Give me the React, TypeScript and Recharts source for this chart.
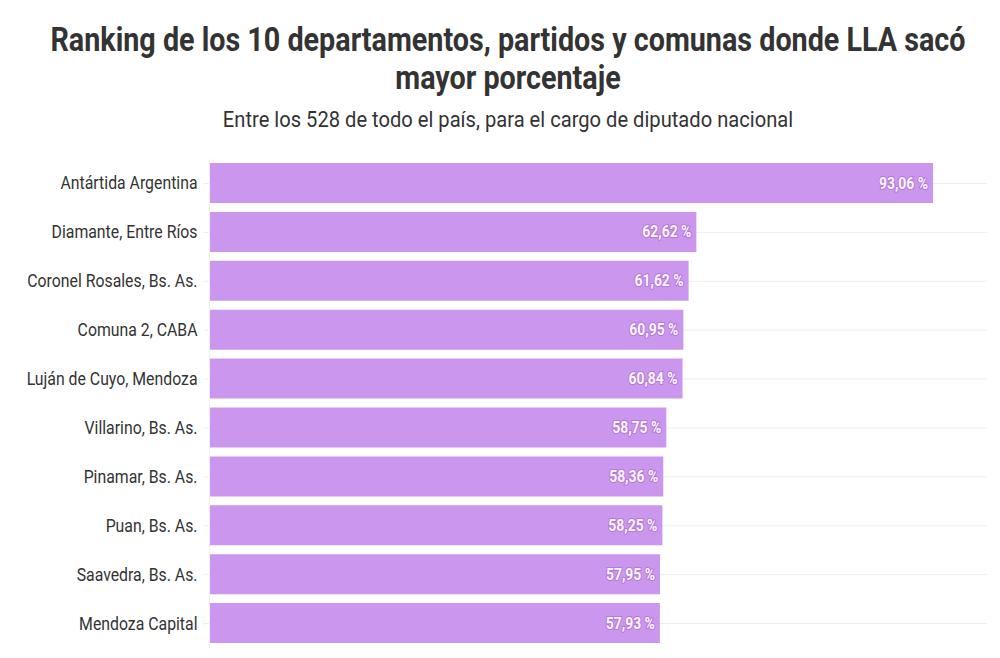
import { BarChart, Bar, XAxis, YAxis, CartesianGrid, LabelList } from "recharts";

const categories = [
  "Antártida Argentina",
  "Diamante, Entre Ríos",
  "Coronel Rosales, Bs. As.",
  "Comuna 2, CABA",
  "Luján de Cuyo, Mendoza",
  "Villarino, Bs. As.",
  "Pinamar, Bs. As.",
  "Puan, Bs. As.",
  "Saavedra, Bs. As.",
  "Mendoza Capital",
];
const values = [93.06, 62.62, 61.62, 60.95, 60.84, 58.75, 58.36, 58.25, 57.95, 57.93];

const chartData = categories.map((name, i) => ({ name, value: values[i] }));

const FONT = "Roboto, sans-serif";

// Roboto Condensed is not installed, so the regular cut is squeezed horizontally
const CategoryTick = ({ x, y, payload }: any) => (
  <text
    transform={`translate(${x},${y + 6}) scale(0.905,1)`}
    textAnchor="end"
    fontFamily={FONT}
    fontSize={17.5}
    fill="#333333"
  >
    {payload.value}
  </text>
);

const ValueLabel = ({ x, y, width, height, value }: any) => (
  <text
    transform={`translate(${x + width - 5},${y + height / 2 + 5.5}) scale(0.87,1)`}
    textAnchor="end"
    fontFamily={FONT}
    fontSize={16}
    fontWeight={700}
    fill="#fbf5ff"
    stroke="#b27bd8"
    strokeWidth={2.2}
    paintOrder="stroke"
  >
    {value.toFixed(2).replace(".", ",")} %
  </text>
);

export default function App() {
  return (
    <div style={{ position: "absolute", left: 0, top: 0, width: 1000, height: 658, background: "#fff", overflow: "hidden" }}>
      <div
        style={{
          position: "absolute",
          left: -50,
          width: 1116,
          top: 21,
          textAlign: "center",
          fontFamily: FONT,
          fontWeight: 700,
          fontSize: 33,
          lineHeight: "38px",
          color: "#333333",
          transform: "scaleX(0.87)",
        }}
      >
        Ranking de los 10 departamentos, partidos y comunas donde LLA sacó
        <br />
        mayor porcentaje
      </div>
      <div
        style={{
          position: "absolute",
          left: -50,
          width: 1116,
          top: 105,
          textAlign: "center",
          fontFamily: FONT,
          fontSize: 22.5,
          lineHeight: "28px",
          color: "#333333",
          transform: "scaleX(0.895)",
        }}
      >
        Entre los 528 de todo el país, para el cargo de diputado nacional
      </div>
      <BarChart
        width={1000}
        height={658}
        data={chartData}
        layout="vertical"
        margin={{ top: 159, right: 13, bottom: 10, left: 0 }}
      >
        <CartesianGrid vertical={false} syncWithTicks stroke="#eeeeee" />
        <XAxis type="number" domain={[0, 100]} hide />
        <YAxis
          type="category"
          dataKey="name"
          width={209.5}
          interval={0}
          tick={<CategoryTick />}
          tickSize={6}
          tickMargin={6}
          axisLine={{ stroke: "#eeeeee" }}
          tickLine={{ stroke: "#eeeeee" }}
        />
        <Bar dataKey="value" fill="#cb97ee" barSize={40} isAnimationActive={false}>
          <LabelList dataKey="value" content={<ValueLabel />} />
        </Bar>
      </BarChart>
    </div>
  );
}
